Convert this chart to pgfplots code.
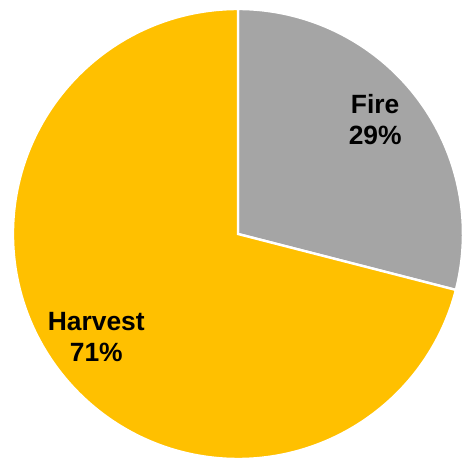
\documentclass[border=0pt]{standalone}
\usepackage{pgfplots}
\pgfplotsset{compat=1.18}
\usepackage{fontspec}
\setmainfont{Liberation Sans}
\definecolor{fire}{HTML}{A5A5A5}
\definecolor{harv}{HTML}{FFC000}
\begin{document}
\begin{tikzpicture}
\def\fire{29}\def\harvest{71}
\begin{axis}[hide axis, scale only axis, width=231pt, height=230.5pt,
  xmin=-1.058, xmax=0.996, ymin=-1.009, ymax=1.04, clip=false]
\addplot[draw=none] coordinates {(0,0)};
\pgfmathsetmacro{\ea}{90-3.6*\fire}
\fill[fire, draw=white, line width=1.2pt] (axis cs:0,0) -- (axis cs:0,1) arc[start angle=90, end angle=\ea, radius=112.5pt] -- cycle;
\fill[harv, draw=white, line width=1.2pt] (axis cs:0,0) -- (axis cs:0,1) arc[start angle=90, end angle=\ea+360, radius=112.5pt] -- cycle;
\node[font=\fontsize{13.2}{15.5}\selectfont\bfseries, align=center] at (axis cs:0.61,0.51) {Fire\\\fire\%};
\node[font=\fontsize{13.2}{15.5}\selectfont\bfseries, align=center] at (axis cs:-0.63,-0.46) {Harvest\\\harvest\%};
\coordinate (sw) at (axis cs:-1.058,-1.009);
\coordinate (ne) at (axis cs:0.996,1.04);
\end{axis}
\pgfresetboundingbox
\path[use as bounding box] (sw) rectangle (ne);
\end{tikzpicture}
\end{document}
